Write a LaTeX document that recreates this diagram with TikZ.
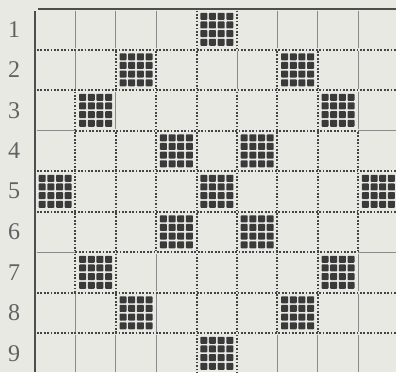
\documentclass[tikz,border=0pt]{standalone}
\usepackage{fontspec}
\setmainfont{Liberation Serif}
\usepackage{tikz}
\definecolor{paper}{HTML}{E9E9E4}
\definecolor{inkDark}{HTML}{3A3A3A}
\definecolor{inkGray}{HTML}{444444}
\definecolor{inkLight}{HTML}{8A8A8A}

\begin{document}
\begin{tikzpicture}[
    x=0.75pt, y=-0.75pt,
    dt/.style={draw=inkGray, line width=1.5pt, dash pattern=on 1.3pt off 1.25pt},
    sg/.style={draw=inkLight, line width=0.7pt},
    frame/.style={draw=inkDark!90, line width=1.6pt},
    rowlbl/.style={
        font=\fontsize{18}{18}\selectfont,
        text=inkDark!80, inner sep=0pt
    },
    cellfill/.style={fill=inkDark, rounded corners=0.6pt},
]

%% =================================================================
%% Paper
%% =================================================================
\useasboundingbox (0,0) rectangle (396,372);
\fill[paper] (0,0) rectangle (396,372);

%% =================================================================
%% Vertical cell borders, row by row (solid or dotted)
%% =================================================================
\foreach \r/\kinds in {
    1/{sg,sg,sg,dt,dt,sg,sg,sg},
    2/{sg,dt,dt,dt,sg,dt,dt,sg},
    3/{dt,sg,dt,dt,dt,dt,dt,sg},
    4/{dt,dt,dt,dt,dt,dt,dt,dt},
    5/{dt,dt,dt,dt,dt,dt,dt,dt},
    6/{dt,dt,dt,dt,dt,dt,dt,dt},
    7/{dt,dt,sg,dt,dt,dt,dt,sg},
    8/{sg,dt,sg,dt,dt,dt,dt,sg},
    9/{sg,sg,sg,dt,dt,sg,sg,sg}} {
  \foreach \k [count=\c] in \kinds {
    \draw[\k] ({35+40.4*\c},{9+40.5*(\r-1)+1.5})
        -- ({35+40.4*\c},{min(372,9+40.5*\r-1.5)});
  }
}

%% =================================================================
%% Horizontal cell borders
%% =================================================================
\foreach \r in {1,2,4,5,7,8}
  \draw[dt] (37,{9+40.5*\r}) -- (396,{9+40.5*\r});
\foreach \r in {3,6} {
  \draw[sg] (37,{9+40.5*\r}) -- (75.4,{9+40.5*\r});
  \draw[dt] (75.4,{9+40.5*\r}) -- (358.2,{9+40.5*\r});
  \draw[sg] (358.2,{9+40.5*\r}) -- (396,{9+40.5*\r});
}

%% Frame (top and left)
\draw[frame] (38,9) -- (396,9);
\draw[frame] (35,11) -- (35,372);

%% =================================================================
%% Row numbers
%% =================================================================
\foreach \r in {1,...,9}
  \node[rowlbl] (row\r) at (14,{9+40.5*(\r-0.5)}) {\r};

%% =================================================================
%% Filled cells (4x4 dots each)
%% =================================================================
\foreach \r/\c in {1/5, 2/3, 2/7, 3/2, 3/8, 4/4, 4/6, 5/1, 5/5, 5/9,
                   6/4, 6/6, 7/2, 7/8, 8/3, 8/7, 9/5} {
  \foreach \i in {0,...,3}
    \foreach \j in {0,...,3}
      \fill[cellfill] ({35+40.4*(\c-0.5)-16.5+8.67*\i},
                       {9+40.5*(\r-0.5)-16.5+8.67*\j}) rectangle ++(7,7);
}

\end{tikzpicture}
\end{document}
